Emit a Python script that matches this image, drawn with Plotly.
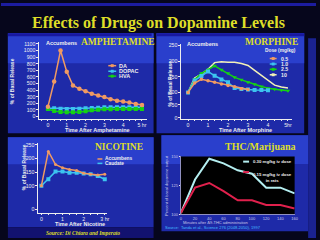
import plotly.graph_objects as go

W, H = 320, 240
def fx(x): return x / W
def fy(y): return 1 - y / H

# ---------------- data ----------------
amph_time = [0, 0.33, 0.67, 1.0, 1.33, 1.67, 2.0, 2.33, 2.67, 3.0, 3.33, 3.67, 4.0, 4.33, 4.67, 5.0]
amph_da = [150, 530, 1000, 680, 470, 420, 385, 345, 320, 295, 262, 240, 227, 212, 190, 175]
amph_dopac = [125, 125, 120, 115, 115, 120, 125, 130, 135, 140, 140, 140, 140, 140, 140, 140]
amph_hva = [115, 85, 70, 65, 65, 70, 80, 95, 105, 110, 110, 115, 115, 115, 115, 115]
amph_names = ["DA", "DOPAC", "HVA"]

morph_time = [0, 0.33, 0.67, 1.0, 1.33, 1.67, 2.0, 2.33, 2.67, 3.0, 3.33, 3.67, 4.0, 4.33, 4.67, 5.0]
morph_05 = [100, 130, 142, 137, 132, 127, 122, 118, 112, 109]
morph_10 = [100, 138, 152, 167, 153, 141, 132, 114, 111, 109, 108, 108, 107]
morph_25 = [100, 141, 161, 172, 185, 172, 161, 148, 140, 132, 126, 119, 113, 110, 107, 105]
morph_100 = [100, 146, 158, 174, 195, 198, 196, 196, 192, 186, 170, 154, 137, 123, 117, 114]
morph_names = ["0.5", "1.0", "2.5", "10"]

nic_time = [0, 0.33, 0.67, 1.0, 1.33, 1.67, 2.0, 2.33, 2.67, 3.0]
nic_accumbens = [100, 226, 178, 166, 160, 156, 146, 142, 140, 142]
nic_caudate = [100, 124, 152, 152, 148, 148, 145, 142, 136, 124]
nic_names = ["Accumbens", "Caudate"]

thc_time = [0, 20, 40, 60, 80, 100, 120, 140, 160]
thc_030 = [101, 130, 148, 144, 138, 135, 123, 123, 118]
thc_015 = [101, 123, 127, 120, 112, 112, 108, 108, 105]
thc_names = ["0.30 mg/kg iv dose", "0.15 mg/kg iv dose<br>in rats"]

amph_yticks = [0, 100, 200, 300, 400, 500, 600, 700, 800, 900, 1000, 1100]
amph_xlabels = ["0", "1", "2", "3", "4", "5 hr"]
morph_ylabels = ["0", "50", "100", "150", "200", "250"]
morph_xlabels = ["0", "1", "2", "3", "4", "5hr"]
nic_ylabels = ["0", "100", "150", "200", "250"]
nic_xlabels = ["0", "1", "2", "3 hr"]
thc_xlabels = ["0", "20", "40", "60", "80", "100", "120", "140", "160"]
thc_yticks = [100, 125, 150]

# ---------------- style ----------------
BG = "#06061c"
PANEL_TOP = "#2a3fcc"
PANEL = "#1e2aa8"
YEL = "#dede28"
WHITE = "#eeeeee"
ORANGE = "#f09a62"
CYAN = "#3cc4f0"
GREEN = "#14d214"
CREAM = "#f2f0b8"
THC_CYAN = "#b4eef0"
THC_RED = "#e0204c"
PALE = "#c8c8e8"
SANS = "Liberation Sans"
SERIF = "Liberation Serif"

fig = go.Figure()

def add_series(xa, ya, x, y, color, symbol, size=4, width=1.5):
    fig.add_trace(go.Scatter(x=x, y=y, xaxis=xa, yaxis=ya, mode="lines+markers" if symbol else "lines",
                             line=dict(color=color, width=width),
                             marker=dict(color=color, symbol=symbol or "circle", size=size, line=dict(width=0)),
                             showlegend=False, hoverinfo="skip"))

# Amphetamine
add_series("x", "y", amph_time, amph_dopac, CYAN, "square", 4)
add_series("x", "y", amph_time, amph_hva, GREEN, "square", 4)
add_series("x", "y", amph_time, amph_da, ORANGE, "circle", 4.5)
# Morphine
add_series("x2", "y2", morph_time[:len(morph_100)], morph_100, CREAM, "cross-thin", 4)
add_series("x2", "y2", morph_time[:len(morph_25)], morph_25, GREEN, "triangle-down", 4)
add_series("x2", "y2", morph_time[:len(morph_10)], morph_10, CYAN, "square", 4)
add_series("x2", "y2", morph_time[:len(morph_05)], morph_05, ORANGE, "circle", 3.5)
# Nicotine
add_series("x3", "y3", nic_time, nic_caudate, CYAN, "square", 4)
add_series("x3", "y3", nic_time, nic_accumbens, ORANGE, "circle", 3)
# THC
add_series("x4", "y4", thc_time, thc_030, THC_CYAN, None, 0, 2)
add_series("x4", "y4", thc_time, thc_015, THC_RED, None, 0, 2)

tickfont = dict(family=SANS, size=5.2, color=WHITE)
def ax(**kw):
    d = dict(showgrid=False, zeroline=False, showline=True, linecolor=WHITE, linewidth=1,
             ticks="outside", ticklen=2, tickcolor=WHITE, tickwidth=1, tickfont=tickfont,
             fixedrange=True)
    d.update(kw)
    return d

minor = dict(ticks="outside", tickmode="linear", tick0=0, dtick=0.3333, ticklen=1, tickcolor=WHITE)
thc_font = dict(family=SANS, size=4, color=PALE)

fig.update_layout(
    width=W, height=H, margin=dict(l=0, r=0, t=0, b=0),
    paper_bgcolor=BG, plot_bgcolor="rgba(0,0,0,0)", showlegend=False,
    xaxis=ax(domain=[fx(39), fx(148)], range=[-0.455, 5.25], anchor="y", ticklen=1.5,
             tickmode="array", tickvals=[0, 1, 2, 3, 4, 5], ticktext=amph_xlabels, minor=minor),
    yaxis=ax(domain=[fy(118), fy(40)], range=[-30, 1126], anchor="x",
             tickmode="array", tickvals=amph_yticks),
    xaxis2=ax(domain=[fx(183.3), fx(296)], range=[-0.33, 5.22], anchor="y2", ticklen=1,
              tickmode="array", tickvals=[0, 1, 2, 3, 4, 5], ticktext=morph_xlabels, minor=minor),
    yaxis2=ax(domain=[fy(118), fy(42)], range=[16.6, 254], anchor="x2",
              tickmode="array", tickvals=[18.75, 60, 100, 150, 200, 250], ticktext=morph_ylabels),
    xaxis3=ax(domain=[fx(38), fx(108)], range=[-0.14, 3.12], anchor="y3", ticklen=1,
              tickmode="array", tickvals=[0, 1, 2, 3], ticktext=nic_xlabels, minor=minor),
    yaxis3=ax(domain=[fy(214), fy(143)], range=[1.8, 257], anchor="x3",
              tickmode="array", tickvals=[12.6, 100, 150, 200, 250], ticktext=nic_ylabels),
    xaxis4=ax(domain=[fx(182.7), fx(298.3)], range=[0, 160], anchor="y4",
              tickmode="array", tickvals=thc_time, ticktext=thc_xlabels,
              tickfont=thc_font, linecolor="#9090c0", ticks=""),
    yaxis4=ax(domain=[fy(215.7), fy(156.7)], range=[100, 150], anchor="x4",
              tickmode="array", tickvals=thc_yticks,
              tickfont=thc_font, linecolor="#9090c0", ticklen=1),
)

shapes = []
def rect(x0, y0, x1, y1, color, layer="below"):
    shapes.append(dict(type="rect", xref="paper", yref="paper", x0=fx(x0), x1=fx(x1), y0=fy(y1), y1=fy(y0),
                       fillcolor=color, line=dict(width=0), layer=layer))

# slide decoration
rect(0, 0, 320, 3, "#1c1ca0")
rect(312, 36, 320, 240, "#1a2290")
# panels
for (x0, y0, x1, y1) in [(7, 31, 155, 133), (158, 31, 308, 133), (7, 137, 155, 229), (163, 135, 312, 233)]:
    rect(x0, y0, x1, y1, PANEL)
    rect(x0, y0, x1, y0 + (y1 - y0) * 0.3, PANEL_TOP)
rect(7, 31, 153, 34, "#1818a0")
rect(158, 31, 308, 34, "#1818a0")
rect(7, 229, 155, 240, "#121270")
# THC black plot area
rect(182.7, 156.7, 298.3, 215.7, "#000000")

def leg_sample(x0, x1, y, color, symbol_square=True):
    shapes.append(dict(type="line", xref="paper", yref="paper", x0=fx(x0), x1=fx(x1), y0=fy(y), y1=fy(y),
                       line=dict(color=color, width=1.5)))
    if symbol_square:
        m = (x0 + x1) / 2
        shapes.append(dict(type="rect", xref="paper", yref="paper", x0=fx(m - 1.5), x1=fx(m + 1.5),
                           y0=fy(y + 1.5), y1=fy(y - 1.5), fillcolor=color, line=dict(width=0)))

annotations = []
def text(x, y, s, size=5.5, color=WHITE, family=SANS, xanchor="center", angle=0, bold=True):
    annotations.append(dict(xref="paper", yref="paper", x=fx(x), y=fy(y), text=(f"<b>{s}</b>" if bold else s),
                            showarrow=False, xanchor=xanchor, yanchor="middle", textangle=angle,
                            font=dict(family=family, size=size, color=color)))

# title
text(160, 20, "Effects of Drugs on Dopamine Levels", 16, YEL, SERIF)

# amphetamine
text(119, 40, "AMPHETAMINE", 9.5, YEL, SERIF)
text(61, 41, "Accumbens", 5.5)
text(12, 80, "% of Basal Release", 5, angle=-90)
text(98, 129.5, "Time After Amphetamine", 5.5)
for name, color, yy in zip(amph_names, [ORANGE, CYAN, GREEN], [64, 69.7, 74.7]):
    leg_sample(109, 117, yy, color)
    text(118, yy, name, 5.5, xanchor="left")

# morphine
text(275, 40, "MORPHINE", 9.5, YEL, SERIF)
text(205, 42, "Accumbens", 5.5)
text(172, 82, "% of Basal Release", 5, angle=-90)
text(248, 130, "Time After Morphine", 5.5)
text(284, 49, "Dose (mg/kg)", 4.8)
for name, color, yy in zip(morph_names, [ORANGE, CYAN, GREEN, CREAM], [56.7, 62.3, 67.7, 73.3]):
    leg_sample(273, 280, yy, color)
    text(282, yy, name, 5.2, xanchor="left")

# nicotine
text(120, 147, "NICOTINE", 9.5, YEL, SERIF)
text(23, 168, "% of Basal Release", 5, angle=-90)
text(80, 225.2, "Time After Nicotine", 5.5)
for name, color, yy in zip(nic_names, [ORANGE, CYAN], [159.3, 163.8]):
    leg_sample(98, 103, yy, color, False)
    text(104, yy, name, 4.8, xanchor="left")
text(83, 234.5, "<i>Source: Di Chiara and Imperato</i>", 5.5, YEL, SERIF)

# THC
text(264, 147, "THC/Marijuana", 10, YEL, SERIF)
text(167.5, 186, "Percent of basal dopamine output", 4, PALE, angle=-90, bold=False)
text(218, 224.6, "Minutes after Δ9-THC administration", 4, PALE, bold=False)
text(165, 229.6, "Source:  Tanda et al., Science 276 (2048-2050), 1997", 4, "#44bfff", xanchor="left", bold=False)
shapes.append(dict(type="line", xref="paper", yref="paper", x0=fx(246), x1=fx(252), y0=fy(162), y1=fy(162),
                   line=dict(color=THC_CYAN, width=2)))
shapes.append(dict(type="line", xref="paper", yref="paper", x0=fx(246), x1=fx(252), y0=fy(172.7), y1=fy(172.7),
                   line=dict(color=THC_RED, width=2)))
text(254, 162, thc_names[0], 4.3, xanchor="left")
annotations.append(dict(xref="paper", yref="paper", x=fx(254), y=fy(170.5), text="<b>" + thc_names[1] + "</b>",
                        showarrow=False, xanchor="left", yanchor="top", align="center",
                        font=dict(family=SANS, size=4.3, color=WHITE)))

fig.update_layout(shapes=shapes, annotations=annotations)
fig.write_html("out.html")
